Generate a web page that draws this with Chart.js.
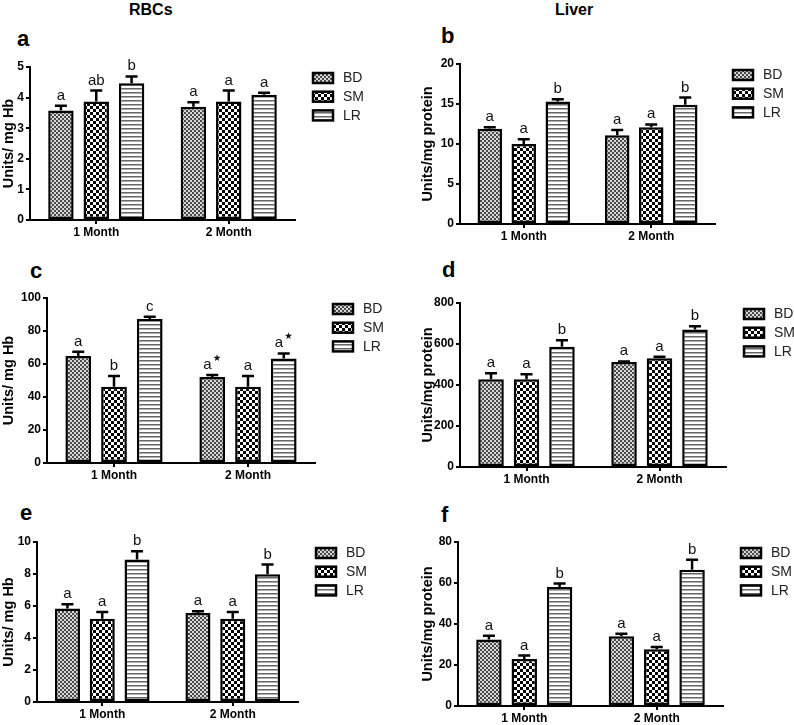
<!DOCTYPE html>
<html>
<head>
<meta charset="utf-8">
<script src="https://cdn.jsdelivr.net/npm/chart.js@4/dist/chart.umd.min.js"></script>
<style>
  html,body{margin:0;padding:0;background:#fff;}
  #wrap{position:relative;width:794px;height:725px;overflow:hidden;background:#fff;font-family:"Liberation Sans",Arial,sans-serif;}
  .t{position:absolute;line-height:1;white-space:nowrap;color:#000;font-weight:bold;}
</style>
</head>
<body>
<div id="wrap"></div>
<script>
// ---------- DATA ----------
const categories = ['1 Month', '2 Month'];
const seriesNames = ['BD', 'SM', 'LR'];

// Panel a (RBCs)
const a_yTicks = [0, 1, 2, 3, 4, 5];
const a_BD = [3.58, 3.70], a_BDerr = [0.15, 0.15], a_BDsig = ['a', 'a'];
const a_SM = [3.87, 3.87], a_SMerr = [0.36, 0.36], a_SMsig = ['ab', 'a'];
const a_LR = [4.47, 4.09], a_LRerr = [0.22, 0.07], a_LRsig = ['b', 'a'];

// Panel b (Liver)
const b_yTicks = [0, 5, 10, 15, 20];
const b_BD = [11.9, 11.1], b_BDerr = [0.2, 0.65], b_BDsig = ['a', 'a'];
const b_SM = [10.0, 12.1], b_SMerr = [0.6, 0.35], b_SMsig = ['a', 'a'];
const b_LR = [15.3, 14.9], b_LRerr = [0.3, 0.9], b_LRsig = ['b', 'b'];

// Panel c (RBCs)
const c_yTicks = [0, 20, 40, 60, 80, 100];
const c_BD = [64.8, 52.1], c_BDerr = [2.7, 1.2], c_BDsig = ['a', 'a★'];
const c_SM = [46.2, 46.2], c_SMerr = [6.5, 6.5], c_SMsig = ['b', 'a'];
const c_LR = [87.3, 63.4], c_LRerr = [1.4, 3.0], c_LRsig = ['c', 'a★'];

// Panel d (Liver)
const d_yTicks = [0, 200, 400, 600, 800];
const d_BD = [428, 512], d_BDerr = [29, 3], d_BDsig = ['a', 'a'];
const d_SM = [428, 530], d_SMerr = [25, 8], d_SMsig = ['a', 'a'];
const d_LR = [586, 671], d_LRerr = [32, 16], d_LRsig = ['b', 'b'];

// Panel e (RBCs)
const e_yTicks = [0, 2, 4, 6, 8, 10];
const e_BD = [5.84, 5.56], e_BDerr = [0.27, 0.11], e_BDsig = ['a', 'a'];
const e_SM = [5.21, 5.21], e_SMerr = [0.42, 0.42], e_SMsig = ['a', 'a'];
const e_LR = [8.9, 7.98], e_LRerr = [0.52, 0.61], e_LRsig = ['b', 'b'];

// Panel f (Liver)
const f_yTicks = [0, 20, 40, 60, 80];
const f_BD = [32.4, 34.0], f_BDerr = [1.9, 1.3], f_BDsig = ['a', 'a'];
const f_SM = [22.9, 27.7], f_SMerr = [1.7, 1.1], f_SMsig = ['a', 'a'];
const f_LR = [58.0, 66.5], f_LRerr = [1.7, 4.9], f_LRsig = ['b', 'b'];

const yTitleRBC = 'Units/ mg Hb';
const yTitleLiver = 'Units/mg protein';

// ---------- LAYOUT ----------
const FONT = '"Liberation Sans", Arial, sans-serif';
Chart.defaults.font.family = FONT;
const wrap = document.getElementById('wrap');

function addText(txt, left, baseline, size) {
  const d = document.createElement('div');
  d.className = 't';
  d.textContent = txt;
  d.style.left = left + 'px';
  d.style.top = (baseline - 0.8465 * size) + 'px';
  d.style.fontSize = size + 'px';
  wrap.appendChild(d);
}
addText('RBCs', 129, 15.5, 16);
addText('Liver', 555, 15.5, 16);
addText('a', 17, 47, 22);
addText('b', 441, 43.5, 22);
addText('c', 30, 278.5, 22);
addText('d', 442, 278, 22);
addText('e', 20, 520.5, 22);
addText('f', 441, 522.5, 22);

function makePatterns(ctx) {
  function tile(w, h, draw) {
    const c = document.createElement('canvas');
    c.width = w; c.height = h;
    const g = c.getContext('2d');
    draw(g);
    return ctx.createPattern(c, 'repeat');
  }
  const bd = tile(4, 4, g => {
    g.fillStyle = '#d8d8d8'; g.fillRect(0, 0, 4, 4);
    g.fillStyle = '#4a4a4a'; g.fillRect(0, 0, 2, 2); g.fillRect(2, 2, 2, 2);
  });
  const sm = tile(6, 6, g => {
    g.fillStyle = '#fff'; g.fillRect(0, 0, 6, 6);
    g.fillStyle = '#000'; g.fillRect(0, 0, 3, 3); g.fillRect(3, 3, 3, 3);
  });
  const lr = tile(4, 4, g => {
    g.fillStyle = '#fff'; g.fillRect(0, 0, 4, 4);
    g.fillStyle = '#666'; g.fillRect(0, 0, 4, 1);
    g.fillStyle = '#b0b0b0'; g.fillRect(0, 1, 4, 1);
  });
  return [bd, sm, lr];
}

const errPlugin = {
  id: 'errbars',
  afterDatasetsDraw(chart) {
    const ctx = chart.ctx, ys = chart.scales.y;
    chart.data.datasets.forEach((ds, di) => {
      const meta = chart.getDatasetMeta(di);
      meta.data.forEach((bar, i) => {
        const top = ys.getPixelForValue(ds.data[i] + ds.errs[i]);
        ctx.save();
        ctx.strokeStyle = '#000';
        ctx.lineWidth = 2.5;
        ctx.beginPath();
        ctx.moveTo(bar.x, bar.y);
        ctx.lineTo(bar.x, top);
        ctx.moveTo(bar.x - 6, top);
        ctx.lineTo(bar.x + 6, top);
        ctx.stroke();
        const txt = ds.sig[i];
        const star = txt.endsWith('★');
        const base = star ? txt.slice(0, -1) : txt;
        const mainFont = '15px ' + FONT;
        const starFont = '9.5px "DejaVu Sans", sans-serif';
        ctx.font = mainFont;
        const w1 = ctx.measureText(base).width;
        let w2 = 0;
        if (star) { ctx.font = starFont; w2 = ctx.measureText('★').width + 1; }
        const x0 = bar.x - (w1 + w2) / 2;
        ctx.fillStyle = '#111';
        ctx.textAlign = 'left';
        ctx.textBaseline = 'alphabetic';
        ctx.font = mainFont;
        ctx.fillText(base, x0, top - 6);
        if (star) { ctx.font = starFont; ctx.fillText('★', x0 + w1 + 1, top - 14); }
        ctx.restore();
      });
    });
  }
};

const legendPlugin = {
  id: 'patLegend',
  afterDraw(chart) {
    const ctx = chart.ctx, ca = chart.chartArea;
    const x = ca.right + 18;
    chart.data.datasets.forEach((ds, i) => {
      const cy = ca.top + 11 + i * 18.7;
      ctx.save();
      ctx.fillStyle = ds.backgroundColor;
      ctx.fillRect(x, cy - 5, 20, 10);
      ctx.strokeStyle = '#000';
      ctx.lineWidth = 2.5;
      ctx.strokeRect(x, cy - 5, 20, 10);
      ctx.fillStyle = '#222';
      ctx.font = '14px ' + FONT;
      ctx.textAlign = 'left';
      ctx.textBaseline = 'middle';
      ctx.fillText(ds.label, x + 30, cy + 0.5);
      ctx.restore();
    });
  }
};

const panels = [
  {canvas: [0, 40, 400, 210], area: [30, 67, 295, 220], padL: 0, yTitle: yTitleRBC, ticks: a_yTicks,
   means: [a_BD, a_SM, a_LR], errs: [a_BDerr, a_SMerr, a_LRerr], sig: [a_BDsig, a_SMsig, a_LRsig]},
  {canvas: [400, 40, 394, 210], area: [460, 64, 715, 224], padL: 19, yTitle: yTitleLiver, ticks: b_yTicks,
   means: [b_BD, b_SM, b_LR], errs: [b_BDerr, b_SMerr, b_LRerr], sig: [b_BDsig, b_SMsig, b_LRsig]},
  {canvas: [0, 280, 400, 210], area: [47, 298, 315, 463], padL: 0, yTitle: yTitleRBC, ticks: c_yTicks,
   means: [c_BD, c_SM, c_LR], errs: [c_BDerr, c_SMerr, c_LRerr], sig: [c_BDsig, c_SMsig, c_LRsig]},
  {canvas: [400, 280, 394, 210], area: [460, 303, 726, 467], padL: 19, yTitle: yTitleLiver, ticks: d_yTicks,
   means: [d_BD, d_SM, d_LR], errs: [d_BDerr, d_SMerr, d_LRerr], sig: [d_BDsig, d_SMsig, d_LRsig]},
  {canvas: [0, 525, 400, 200], area: [37, 542, 298, 702], padL: 0, yTitle: yTitleRBC, ticks: e_yTicks,
   means: [e_BD, e_SM, e_LR], errs: [e_BDerr, e_SMerr, e_LRerr], sig: [e_BDsig, e_SMsig, e_LRsig]},
  {canvas: [400, 525, 394, 200], area: [458, 542, 723, 706], padL: 19, yTitle: yTitleLiver, ticks: f_yTicks,
   means: [f_BD, f_SM, f_LR], errs: [f_BDerr, f_SMerr, f_LRerr], sig: [f_BDsig, f_SMsig, f_LRsig]}
];

function build(p) {
  const [cx, cy, cw, ch] = p.canvas;
  const [L, T, R, B] = p.area;
  const cv = document.createElement('canvas');
  cv.width = cw; cv.height = ch;
  cv.style.cssText = `position:absolute;left:${cx}px;top:${cy}px;width:${cw}px;height:${ch}px`;
  wrap.appendChild(cv);
  const pats = makePatterns(cv.getContext('2d'));
  const yW = L - cx - p.padL;
  const xH = 22;
  new Chart(cv, {
    type: 'bar',
    data: {
      labels: categories,
      datasets: seriesNames.map((n, i) => ({
        label: n,
        data: p.means[i],
        errs: p.errs[i],
        sig: p.sig[i],
        backgroundColor: pats[i],
        borderColor: '#000',
        borderWidth: 2.5,
        borderSkipped: false,
        categoryPercentage: 0.8,
        barPercentage: 0.72
      }))
    },
    options: {
      responsive: false,
      animation: false,
      devicePixelRatio: 1,
      layout: {padding: {left: p.padL, top: T - cy, right: cx + cw - R, bottom: cy + ch - B - xH}},
      plugins: {legend: {display: false}, tooltip: {enabled: false}},
      scales: {
        x: {
          grid: {offset: false, drawOnChartArea: false, tickLength: 4, color: '#000', lineWidth: 2},
          border: {color: '#000', width: 2},
          ticks: {color: '#000', font: {size: 12, weight: 'bold'}, padding: 1, maxRotation: 0},
          afterFit: s => { s.height = xH; }
        },
        y: {
          min: 0,
          max: p.ticks[p.ticks.length - 1],
          afterBuildTicks: s => { s.ticks = p.ticks.map(v => ({value: v})); },
          grid: {drawOnChartArea: false, tickLength: 4, color: '#000', lineWidth: 2},
          border: {color: '#000', width: 2},
          ticks: {color: '#000', font: {size: 12, weight: 'bold'}, padding: 2},
          title: {display: true, text: p.yTitle, color: '#000', font: {size: 14.5, weight: 'bold'}, padding: {top: 0, bottom: 0}},
          afterFit: s => { s.width = yW; }
        }
      }
    },
    plugins: [errPlugin, legendPlugin]
  });
}
panels.forEach(build);
</script>
</body>
</html>
